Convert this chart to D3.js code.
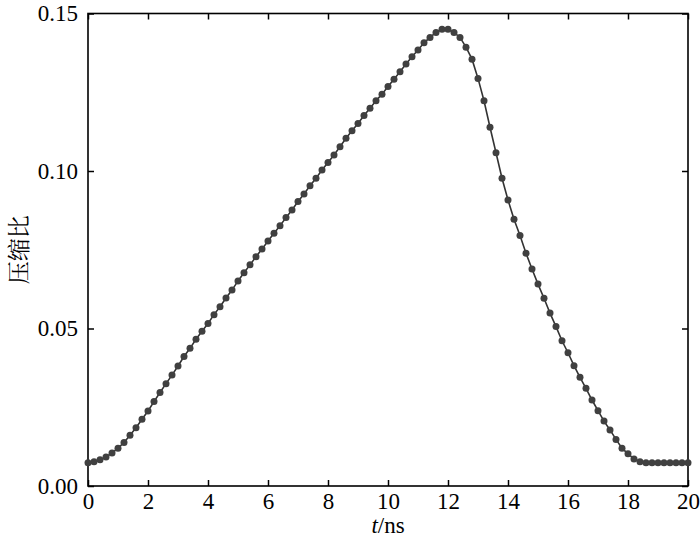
<!DOCTYPE html>
<html>
<head>
<meta charset="utf-8">
<script src="https://cdn.jsdelivr.net/npm/d3@7"></script>
<style>
  body { margin: 0; background: #fff; }
  svg text { font-family: "Liberation Serif", "Times New Roman", serif; fill: #000; }
</style>
</head>
<body>
<div id="chart"></div>
<script>
// time (ns)
var times = [0, 0.2, 0.4, 0.6, 0.8, 1, 1.2, 1.4, 1.6, 1.8,
  2, 2.2, 2.4, 2.6, 2.8, 3, 3.2, 3.4, 3.6, 3.8,
  4, 4.2, 4.4, 4.6, 4.8, 5, 5.2, 5.4, 5.6, 5.8,
  6, 6.2, 6.4, 6.6, 6.8, 7, 7.2, 7.4, 7.6, 7.8,
  8, 8.2, 8.4, 8.6, 8.8, 9, 9.2, 9.4, 9.6, 9.8,
  10, 10.2, 10.4, 10.6, 10.8, 11, 11.2, 11.4, 11.6, 11.8,
  12, 12.2, 12.4, 12.6, 12.8, 13, 13.2, 13.4, 13.6, 13.8,
  14, 14.2, 14.4, 14.6, 14.8, 15, 15.2, 15.4, 15.6, 15.8,
  16, 16.2, 16.4, 16.6, 16.8, 17, 17.2, 17.4, 17.6, 17.8,
  18, 18.2, 18.4, 18.6, 18.8, 19, 19.2, 19.4, 19.6, 19.8, 20];

// compression ratio
var ratio = [0.0074, 0.0077, 0.0083, 0.0092, 0.0105, 0.0120, 0.0138, 0.0161, 0.0185, 0.0212,
  0.0238, 0.0268, 0.0297, 0.0325, 0.0352, 0.0381, 0.0411, 0.0437, 0.0466, 0.0491,
  0.0516, 0.0544, 0.0569, 0.0597, 0.0622, 0.0651, 0.0677, 0.0702, 0.0728, 0.0752,
  0.0778, 0.0802, 0.0826, 0.0852, 0.0876, 0.0903, 0.0927, 0.0953, 0.0977, 0.1003,
  0.1027, 0.1051, 0.1077, 0.1104, 0.1128, 0.1151, 0.1176, 0.1199, 0.1223, 0.1244,
  0.1268, 0.1291, 0.1315, 0.1340, 0.1363, 0.1384, 0.1407, 0.1424, 0.1440, 0.1450,
  0.1450, 0.1440, 0.1424, 0.1393, 0.1355, 0.1294, 0.1223, 0.1139, 0.1058, 0.0977,
  0.0908, 0.0847, 0.0795, 0.0739, 0.0689, 0.0641, 0.0596, 0.0549, 0.0506, 0.0461,
  0.0423, 0.0382, 0.0345, 0.0310, 0.0273, 0.0239, 0.0206, 0.0178, 0.0148, 0.0120,
  0.0102, 0.0086, 0.0077, 0.0074, 0.0074, 0.0074, 0.0074, 0.0074, 0.0074, 0.0074, 0.0074];

var xTicks = [0, 2, 4, 6, 8, 10, 12, 14, 16, 18, 20];
var yTicks = [0, 0.05, 0.10, 0.15];

var W = 700, H = 542;
var margin = {left: 88, top: 13.5, right: 12, bottom: 56};
var w = W - margin.left - margin.right;
var h = H - margin.top - margin.bottom;

var svg = d3.select("#chart").append("svg").attr("width", W).attr("height", H);
var g = svg.append("g").attr("transform", "translate(" + margin.left + "," + margin.top + ")");

var x = d3.scaleLinear().domain([0, 20]).range([0, w]);
var y = d3.scaleLinear().domain([0, 0.15]).range([h, 0]);

var data = times.map(function (t, i) { return [t, ratio[i]]; });

// axes, ticks pointing inward
var xb = g.append("g").attr("transform", "translate(0," + h + ")")
  .call(d3.axisBottom(x).tickValues(xTicks).tickFormat(d3.format("d")).tickSize(-6).tickPadding(7));
var xt = g.append("g")
  .call(d3.axisTop(x).tickValues(xTicks).tickSize(-6).tickFormat(""));
var yl = g.append("g")
  .call(d3.axisLeft(y).tickValues(yTicks).tickFormat(d3.format(".2f")).tickSize(-6).tickPadding(10));
var yr = g.append("g").attr("transform", "translate(" + w + ",0)")
  .call(d3.axisRight(y).tickValues(yTicks).tickSize(-6).tickFormat(""));

[xb, xt, yl, yr].forEach(function (a) {
  a.select(".domain").remove();
  a.selectAll(".tick line").attr("stroke", "#000").attr("stroke-width", 1.5);
  a.selectAll(".tick text").style("font-size", "23px").style("font-family", "'Liberation Serif', serif");
});

g.append("rect").attr("x", 0).attr("y", 0).attr("width", w).attr("height", h)
  .attr("fill", "none").attr("stroke", "#000").attr("stroke-width", 1.6);

// line + markers
var line = d3.line().x(function (d) { return x(d[0]); }).y(function (d) { return y(d[1]); });
g.append("path").datum(data).attr("d", line)
  .attr("fill", "none").attr("stroke", "#333").attr("stroke-width", 1.6);

g.selectAll("circle").data(data).enter().append("circle")
  .attr("cx", function (d) { return x(d[0]); })
  .attr("cy", function (d) { return y(d[1]); })
  .attr("r", 3.5)
  .attr("fill", "#404040");

// axis titles
var xl = svg.append("text")
  .attr("x", margin.left + w / 2).attr("y", 533)
  .attr("text-anchor", "middle").style("font-size", "23px");
xl.append("tspan").style("font-style", "italic").text("t");
xl.append("tspan").text("/ns");

svg.append("text")
  .attr("transform", "translate(17," + (margin.top + h / 2) + ") rotate(-90)")
  .attr("text-anchor", "middle")
  .attr("dominant-baseline", "central")
  .style("font-size", "23px")
  .style("font-family", "'Noto Serif CJK SC', 'Noto Sans CJK SC', serif")
  .text("压缩比");
</script>
</body>
</html>
